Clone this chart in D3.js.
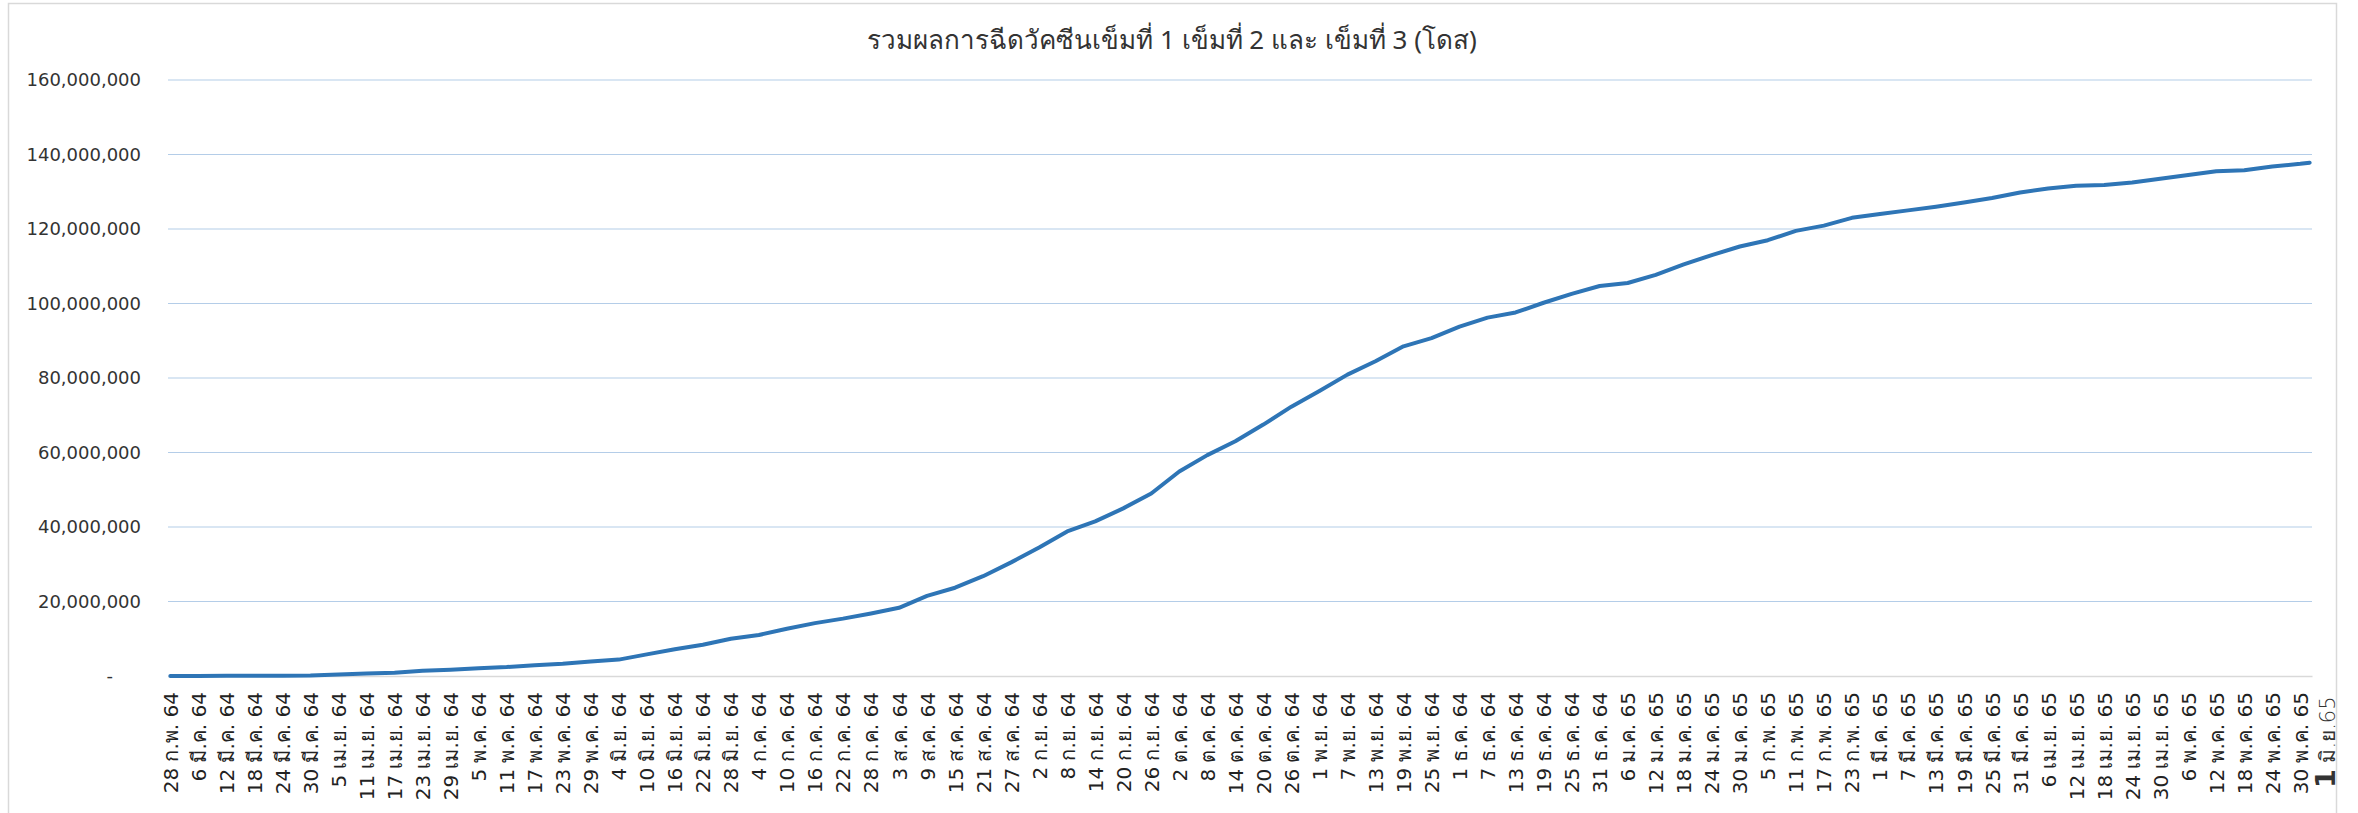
<!DOCTYPE html>
<html lang="th">
<head>
    <meta charset="UTF-8">
    <title>รวมผลการฉีดวัคซีน</title>
    <style>
        body { margin: 0; background: #fff; }
        .title { font-family: "Noto Sans", "DejaVu Sans", sans-serif; font-size: 26px; fill: #333; }
        .y-axis text { font-family: "DejaVu Sans", sans-serif; font-size: 18px; fill: #333; }
        .x-axis text { font-family: Tahoma, "DejaVu Sans", sans-serif; font-size: 20px; fill: #222; }
        .grid line { stroke: #b4cde8; stroke-width: 1.2; }
    </style>
</head>
<body>
    <div id="chart"></div>

    <script src="https://d3js.org/d3.v7.min.js"></script>
    <script>
        // cumulative doses (million), read at each labelled date (every 6 days) + last day
        const dates = [
            "2021-02-28","2021-03-06","2021-03-12","2021-03-18","2021-03-24","2021-03-30",
            "2021-04-05","2021-04-11","2021-04-17","2021-04-23","2021-04-29","2021-05-05",
            "2021-05-11","2021-05-17","2021-05-23","2021-05-29","2021-06-04","2021-06-10",
            "2021-06-16","2021-06-22","2021-06-28","2021-07-04","2021-07-10","2021-07-16",
            "2021-07-22","2021-07-28","2021-08-03","2021-08-09","2021-08-15","2021-08-21",
            "2021-08-27","2021-09-02","2021-09-08","2021-09-14","2021-09-20","2021-09-26",
            "2021-10-02","2021-10-08","2021-10-14","2021-10-20","2021-10-26","2021-11-01",
            "2021-11-07","2021-11-13","2021-11-19","2021-11-25","2021-12-01","2021-12-07",
            "2021-12-13","2021-12-19","2021-12-25","2021-12-31","2022-01-06","2022-01-12",
            "2022-01-18","2022-01-24","2022-01-30","2022-02-05","2022-02-11","2022-02-17",
            "2022-02-23","2022-03-01","2022-03-07","2022-03-13","2022-03-19","2022-03-25",
            "2022-03-31","2022-04-06","2022-04-12","2022-04-18","2022-04-24","2022-04-30",
            "2022-05-06","2022-05-12","2022-05-18","2022-05-24","2022-05-30","2022-06-01"
        ];
        const doses = [
            0.0, 0.03, 0.05, 0.07, 0.1, 0.15,
            0.4, 0.7, 0.9, 1.4, 1.7, 2.1,
            2.4, 2.9, 3.3, 3.9, 4.4, 5.8,
            7.2, 8.4, 10.0, 11.0, 12.7, 14.2,
            15.4, 16.8, 18.3, 21.5, 23.7, 26.8,
            30.5, 34.5, 38.8, 41.5, 45.0, 49.0,
            54.9, 59.3, 63.0, 67.5, 72.3, 76.5,
            80.9, 84.5, 88.5, 90.7, 93.8, 96.2,
            97.6, 100.2, 102.6, 104.7, 105.5, 107.7,
            110.5, 113.0, 115.3, 117.0, 119.5, 120.9,
            123.0, 124.0, 125.0, 126.0, 127.1, 128.3,
            129.8, 130.9, 131.6, 131.8, 132.5, 133.5,
            134.5, 135.5, 135.8, 136.8, 137.5, 137.8
        ];
        const tickLabels = [
            "28 ก.พ. 64","6 มี.ค. 64","12 มี.ค. 64","18 มี.ค. 64","24 มี.ค. 64","30 มี.ค. 64",
            "5 เม.ย. 64","11 เม.ย. 64","17 เม.ย. 64","23 เม.ย. 64","29 เม.ย. 64","5 พ.ค. 64",
            "11 พ.ค. 64","17 พ.ค. 64","23 พ.ค. 64","29 พ.ค. 64","4 มิ.ย. 64","10 มิ.ย. 64",
            "16 มิ.ย. 64","22 มิ.ย. 64","28 มิ.ย. 64","4 ก.ค. 64","10 ก.ค. 64","16 ก.ค. 64",
            "22 ก.ค. 64","28 ก.ค. 64","3 ส.ค. 64","9 ส.ค. 64","15 ส.ค. 64","21 ส.ค. 64",
            "27 ส.ค. 64","2 ก.ย. 64","8 ก.ย. 64","14 ก.ย. 64","20 ก.ย. 64","26 ก.ย. 64",
            "2 ต.ค. 64","8 ต.ค. 64","14 ต.ค. 64","20 ต.ค. 64","26 ต.ค. 64","1 พ.ย. 64",
            "7 พ.ย. 64","13 พ.ย. 64","19 พ.ย. 64","25 พ.ย. 64","1 ธ.ค. 64","7 ธ.ค. 64",
            "13 ธ.ค. 64","19 ธ.ค. 64","25 ธ.ค. 64","31 ธ.ค. 64","6 ม.ค. 65","12 ม.ค. 65",
            "18 ม.ค. 65","24 ม.ค. 65","30 ม.ค. 65","5 ก.พ. 65","11 ก.พ. 65","17 ก.พ. 65",
            "23 ก.พ. 65","1 มี.ค. 65","7 มี.ค. 65","13 มี.ค. 65","19 มี.ค. 65","25 มี.ค. 65",
            "31 มี.ค. 65","6 เม.ย. 65","12 เม.ย. 65","18 เม.ย. 65","24 เม.ย. 65","30 เม.ย. 65",
            "6 พ.ค. 65","12 พ.ค. 65","18 พ.ค. 65","24 พ.ค. 65","30 พ.ค. 65"
        ];
        const yTicks = [0, 20e6, 40e6, 60e6, 80e6, 100e6, 120e6, 140e6, 160e6];
        const title = "รวมผลการฉีดวัคซีนเข็มที่ 1 เข็มที่ 2 และ เข็มที่ 3 (โดส)";
        const lastNote = ["1", " มิ.ย.65"];

        const width = 2358, height = 813;
        const margin = { left: 168, right: 2312, top: 80, bottom: 676 };

        const parse = d3.utcParse("%Y-%m-%d");
        const data = dates.map((d, i) => ({ date: parse(d), value: doses[i] * 1e6 }));
        const tickDates = dates.slice(0, tickLabels.length).map(parse);

        const halfDay = 12 * 3600 * 1000;
        const x = d3.scaleUtc()
            .domain([+data[0].date - halfDay, +data[data.length - 1].date + halfDay])
            .range([margin.left, margin.right]);

        const y = d3.scaleLinear()
            .domain([0, 160e6])
            .range([margin.bottom, margin.top]);

        const svg = d3.select("#chart").append("svg")
            .attr("width", width)
            .attr("height", height);

        // chart frame
        svg.append("rect")
            .attr("x", 8.5).attr("y", 3.5)
            .attr("width", 2328).attr("height", 840)
            .attr("fill", "none")
            .attr("stroke", "#d9d9d9")
            .attr("stroke-width", 1.5);

        svg.append("text")
            .attr("class", "title")
            .attr("x", 1172)
            .attr("y", 49)
            .attr("text-anchor", "middle")
            .text(title);

        // gridlines
        svg.append("g")
            .attr("class", "grid")
            .selectAll("line")
            .data(yTicks.filter(d => d > 0))
            .enter()
            .append("line")
            .attr("x1", margin.left)
            .attr("x2", margin.right)
            .attr("y1", d => y(d))
            .attr("y2", d => y(d));

        const yAxis = svg.append("g")
            .attr("class", "y-axis")
            .attr("transform", `translate(${margin.left - 24},0)`)
            .call(d3.axisLeft(y).tickValues(yTicks).tickSize(0)
                .tickFormat(d => d === 0 ? "-" : d3.format(",")(d)));
        yAxis.select(".domain").remove();
        yAxis.selectAll("text")
            .attr("dx", d => d === 0 ? -28 : 0);

        const xAxis = svg.append("g")
            .attr("class", "x-axis")
            .attr("transform", `translate(0,${margin.bottom})`)
            .call(d3.axisBottom(x).tickValues(tickDates).tickSize(0)
                .tickFormat((d, i) => tickLabels[i]));
        xAxis.select(".domain")
            .attr("stroke", "#d9d9d9")
            .attr("stroke-width", 1.5);
        xAxis.selectAll("text")
            .attr("transform", "rotate(-90)")
            .attr("x", -16)
            .attr("y", 0)
            .attr("dy", "0.35em")
            .style("text-anchor", "end");

        svg.append("path")
            .datum(data)
            .attr("fill", "none")
            .attr("stroke", "#2e75b6")
            .attr("stroke-width", 4)
            .attr("stroke-linejoin", "round")
            .attr("stroke-linecap", "round")
            .attr("d", d3.line().x(d => x(d.date)).y(d => y(d.value)));

        // note at the end of the axis
        const note = svg.append("text")
            .attr("transform", "translate(2329,788) rotate(-90)")
            .attr("dy", "0.35em")
            .attr("fill", "#333")
            .style("font-family", "Tahoma, 'DejaVu Sans', sans-serif");
        note.append("tspan").style("font-size", "27px").style("font-weight", "bold").text(lastNote[0]);
        note.append("tspan").style("font-size", "21px").style("font-weight", "300").text(lastNote[1]);
    </script>
</body>
</html>
